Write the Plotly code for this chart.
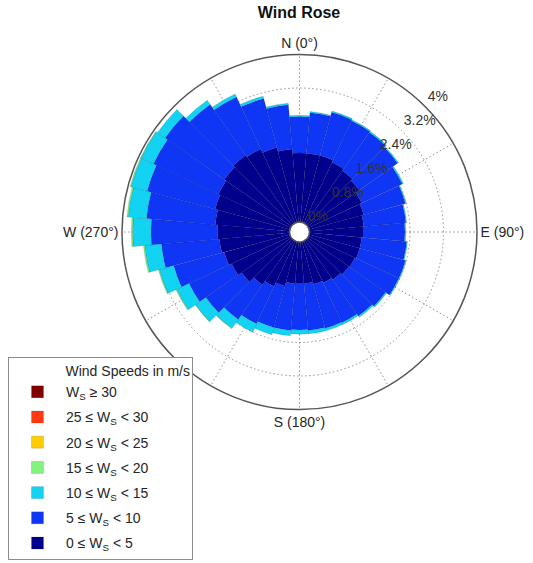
import plotly.graph_objects as go

W, H = 533, 563

directions = list(range(0, 360, 10))

ws_0_5 = [1.65, 1.65, 1.65, 1.60, 1.55, 1.50, 1.40, 1.35, 1.30, 1.28, 1.25, 1.25,
          1.22, 1.20, 1.15, 1.10, 1.05, 1.00, 0.98, 1.00, 1.10, 1.20, 1.30, 1.45,
          1.55, 1.62, 1.68, 1.72, 1.78, 1.85, 1.90, 1.95, 2.00, 1.95, 1.85, 1.75]
ws_5_10 = [0.87, 0.97, 1.07, 1.09, 1.12, 1.12, 1.07, 1.03, 1.01, 1.00, 1.08, 1.13,
           1.16, 1.07, 1.06, 1.05, 1.09, 1.12, 1.12, 1.12, 1.02, 0.98, 1.01, 1.04,
           1.12, 1.25, 1.39, 1.59, 1.65, 1.68, 1.71, 1.73, 1.48, 1.37, 1.21, 1.06]
ws_10_15 = [0.03, 0.03, 0.03, 0.03, 0.03, 0.03, 0.03, 0.02, 0.02, 0.02, 0.02, 0.02,
            0.02, 0.03, 0.04, 0.05, 0.06, 0.08, 0.10, 0.13, 0.18, 0.22, 0.26, 0.30,
            0.33, 0.36, 0.40, 0.44, 0.44, 0.40, 0.33, 0.22, 0.12, 0.08, 0.06, 0.04]
ws_15_20 = [0, 0, 0, 0, 0, 0, 0, 0, 0, 0, 0, 0,
            0, 0, 0, 0, 0, 0, 0, 0, 0, 0, 0.01, 0.01,
            0.02, 0.02, 0.03, 0.03, 0.03, 0.02, 0.01, 0, 0, 0, 0, 0]
ws_20_25 = [0] * 36
ws_25_30 = [0] * 36
ws_30_up = [0] * 36

series_names = ["0 \u2264 W<sub>S</sub> &lt; 5",
                "5 \u2264 W<sub>S</sub> &lt; 10",
                "10 \u2264 W<sub>S</sub> &lt; 15",
                "15 \u2264 W<sub>S</sub> &lt; 20",
                "20 \u2264 W<sub>S</sub> &lt; 25",
                "25 \u2264 W<sub>S</sub> &lt; 30",
                "W<sub>S</sub> \u2265 30"]
series_values = [ws_0_5, ws_5_10, ws_10_15, ws_15_20, ws_20_25, ws_25_30, ws_30_up]
series_colors = ["#00008C", "#1036F5", "#12D4F2", "#84F27E", "#FFCC00", "#FF3A10", "#800000"]

radial_ticks = [0, 0.8, 1.6, 2.4, 3.2, 4]
radial_labels = ["0%", "0.8%", "1.6%", "2.4%", "3.2%", "4%"]
angular_ticks = list(range(0, 360, 30))
angular_labels = ["N (0\u00b0)", "", "", "E (90\u00b0)", "", "", "S (180\u00b0)", "", "",
                  "W (270\u00b0)", "", ""]
legend_title = "&nbsp;" * 14 + "Wind Speeds in m/s"

fig = go.Figure()
for i, (name, vals, col) in enumerate(zip(series_names, series_values, series_colors)):
    fig.add_trace(go.Barpolar(
        r=vals, theta=directions, width=[10] * len(directions),
        name=name, legendgroup=str(i), legendrank=1000 - i,
        marker=dict(color=col, line=dict(color="rgba(0,0,40,0.25)", width=0.5)),
        subplot="polar",
    ))

# helper subplot carrying only the radial percentage labels (MATLAB-style placement)
fig.add_trace(go.Barpolar(r=[0], theta=[0], subplot="polar2", showlegend=False,
                          hoverinfo="skip", marker=dict(color="rgba(0,0,0,0)")))

cx, cy, R = 299.5, 232, 177.5
lx, ly = cx + 3, cy - 23     # label helper centre
RL = 200.0                   # label helper radius in px
px_per_pct = 42.4            # label spacing in px per percent

grid_dash = "1.5px,2.5px"
fig.update_layout(
    width=W, height=H,
    margin=dict(l=0, r=0, t=0, b=0),
    paper_bgcolor="white",
    font=dict(family="Liberation Sans, Arial, sans-serif", size=14, color="#262626"),
    title=dict(text="<b>Wind Rose</b>", x=299 / W, y=1 - 12 / H, xanchor="center", yanchor="middle",
               font=dict(size=16, color="#111111")),
    polar=dict(
        domain=dict(x=[(cx - R) / W, (cx + R) / W], y=[1 - (cy + R) / H, 1 - (cy - R) / H]),
        bgcolor="white",
        hole=10 / R,
        barmode="stack",
        radialaxis=dict(range=[0, 4], tickvals=radial_ticks, showticklabels=False,
                        angle=45, showline=False, ticks="",
                        gridcolor="#8f8f8f", griddash=grid_dash, gridwidth=1),
        angularaxis=dict(rotation=90, direction="clockwise", tickvals=angular_ticks,
                         ticktext=angular_labels, ticks="", showline=True,
                         linecolor="#555555", linewidth=1.5,
                         gridcolor="#8f8f8f", griddash=grid_dash, gridwidth=1,
                         tickfont=dict(size=14, color="#262626")),
    ),
    polar2=dict(
        domain=dict(x=[(lx - RL) / W, (lx + RL) / W], y=[1 - (ly + RL) / H, 1 - (ly - RL) / H]),
        bgcolor="rgba(0,0,0,0)",
        hole=0,
        radialaxis=dict(range=[0, RL / px_per_pct], tickvals=radial_ticks, ticktext=radial_labels,
                        angle=45, tickangle=45, side="clockwise", showline=False, ticks="",
                        showgrid=False, tickfont=dict(size=14, color="#333333")),
        angularaxis=dict(visible=False, rotation=90, direction="clockwise"),
    ),
    legend=dict(
        title=dict(text=legend_title, font=dict(size=14), side="top right"),
        x=8 / W, y=1 - 357 / H, xanchor="left", yanchor="top",
        bgcolor="white", bordercolor="#8c8c8c", borderwidth=1,
        traceorder="grouped", tracegroupgap=4,
        font=dict(size=14), itemwidth=47,
    ),
)

fig.write_html("out.html", config={"displayModeBar": False},
               post_script="document.body.style.margin='0';")
